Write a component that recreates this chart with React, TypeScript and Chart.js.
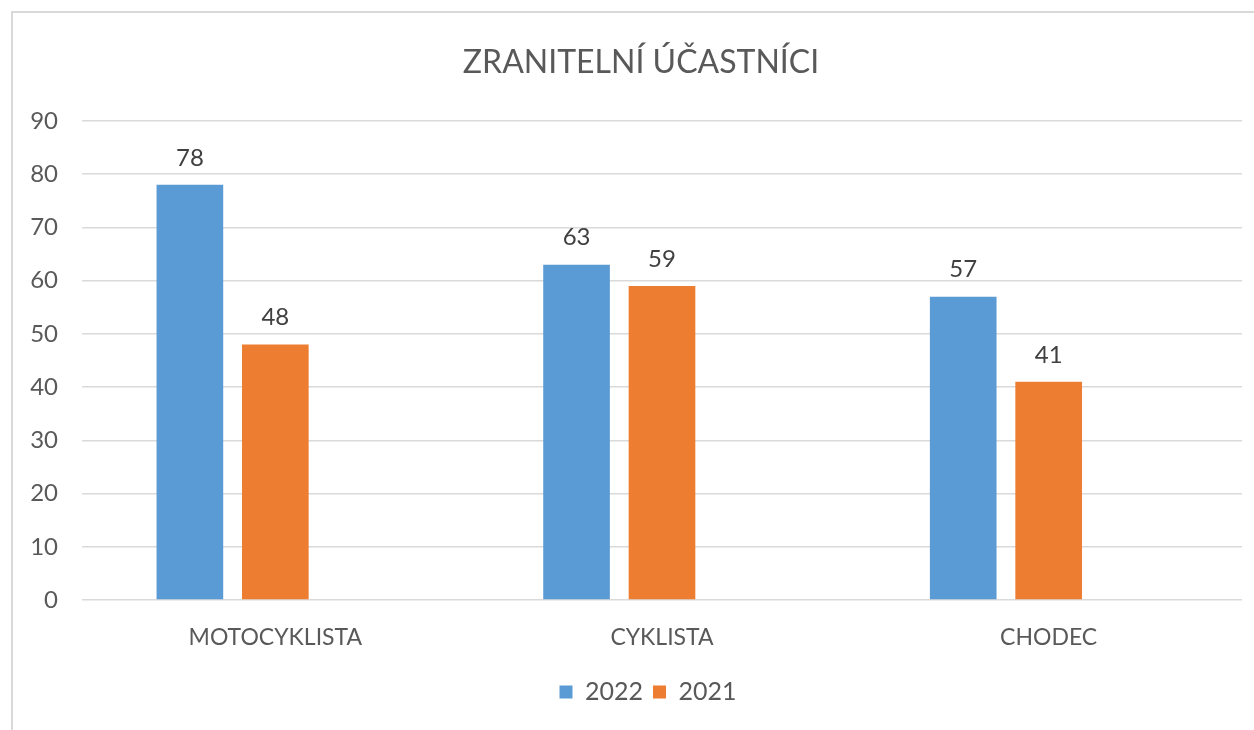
import React, { useEffect, useRef } from "react";
import { Chart, registerables } from "chart.js";

Chart.register(...registerables);

const categories = ["MOTOCYKLISTA", "CYKLISTA", "CHODEC"];
const seriesLabels = ["2022", "2021"];
const values2022 = [78, 63, 57];
const values2021 = [48, 59, 41];
const emptySeries = [null, null, null];
const yMin = 0;
const yMax = 90;
const yStep = 10;
const chartTitle = "ZRANITELNÍ ÚČASTNÍCI";

const FONT = "Lato, 'Open Sans', sans-serif";
const TEXT = "#595959";

const valueLabels = {
  id: "valueLabels",
  afterDatasetsDraw(chart: any) {
    const ctx = chart.ctx;
    ctx.save();
    ctx.font = `24px ${FONT}`;
    ctx.fillStyle = "#404040";
    ctx.textAlign = "center";
    ctx.textBaseline = "middle";
    chart.data.datasets.forEach((ds: any, i: number) => {
      if (!chart.isDatasetVisible(i)) return;
      const meta = chart.getDatasetMeta(i);
      meta.data.forEach((el: any, j: number) => {
        const v = ds.data[j];
        if (v == null) return;
        ctx.fillText(String(v), el.x, el.y - 27);
      });
    });
    ctx.restore();
  },
};

// the original's title and legend sit a little right of the chart centre
const boxShift = {
  id: "boxShift",
  afterLayout(chart: any) {
    if (chart.titleBlock) {
      chart.titleBlock.left += 7;
      chart.titleBlock.right += 7;
    }
    if (chart.legend) {
      chart.legend.left += 14;
      chart.legend.right += 14;
    }
  },
};

export default function App() {
  const ref = useRef<HTMLCanvasElement | null>(null);
  useEffect(() => {
    if (!ref.current) return;
    const chart = new Chart(ref.current, {
      type: "bar",
      data: {
        labels: categories,
        datasets: [
          { label: seriesLabels[0], data: values2022, backgroundColor: "#5B9BD5" },
          { label: seriesLabels[1], data: values2021, backgroundColor: "#ED7D31" },
          { label: "", data: emptySeries as any, backgroundColor: "#A5A5A5" },
        ],
      },
      options: {
        animation: false,
        responsive: false,
        devicePixelRatio: 1,
        layout: { padding: { left: 26, right: 12, top: 0, bottom: 15.5 } },
        datasets: {
          bar: { categoryPercentage: 0.663, barPercentage: 0.78 },
        } as any,
        plugins: {
          title: {
            display: true,
            text: chartTitle,
            color: TEXT,
            font: { family: FONT, size: 32, weight: "normal" as any },
            padding: { top: 43, bottom: 39.6 },
          },
          legend: {
            position: "bottom",
            labels: {
              boxWidth: 13,
              boxHeight: 13,
              color: TEXT,
              padding: 10,
              font: { family: FONT, size: 25 },
              filter: (item: any) => item.datasetIndex < 2,
            },
          },
          tooltip: { enabled: false },
        },
        scales: {
          x: {
            grid: { display: false },
            border: { display: false },
            ticks: {
              color: TEXT,
              padding: 16,
              font: { family: FONT, size: 23 },
            },
            afterFit: (s: any) => {
              s.height = 69.5;
            },
          },
          y: {
            min: yMin,
            max: yMax,
            grid: { color: "#dadada", lineWidth: 1.5, drawTicks: false },
            border: { display: false },
            ticks: {
              stepSize: yStep,
              color: TEXT,
              padding: 24,
              font: { family: FONT, size: 24 },
            },
            afterFit: (s: any) => {
              s.width = 56;
            },
          },
        },
      },
      plugins: [valueLabels, boxShift],
    });
    return () => chart.destroy();
  }, []);

  return (
    <div
      style={{
        position: "fixed",
        left: 0,
        top: 0,
        width: 1254,
        height: 730,
        overflow: "hidden",
        background: "#fff",
      }}
    >
      <canvas ref={ref} width={1254} height={730} style={{ width: 1254, height: 730, display: "block" }} />
      <div
        style={{
          position: "absolute",
          left: 11,
          top: 11,
          width: 1300,
          height: 800,
          border: "2px solid #d9d9d9",
          pointerEvents: "none",
        }}
      />
    </div>
  );
}
